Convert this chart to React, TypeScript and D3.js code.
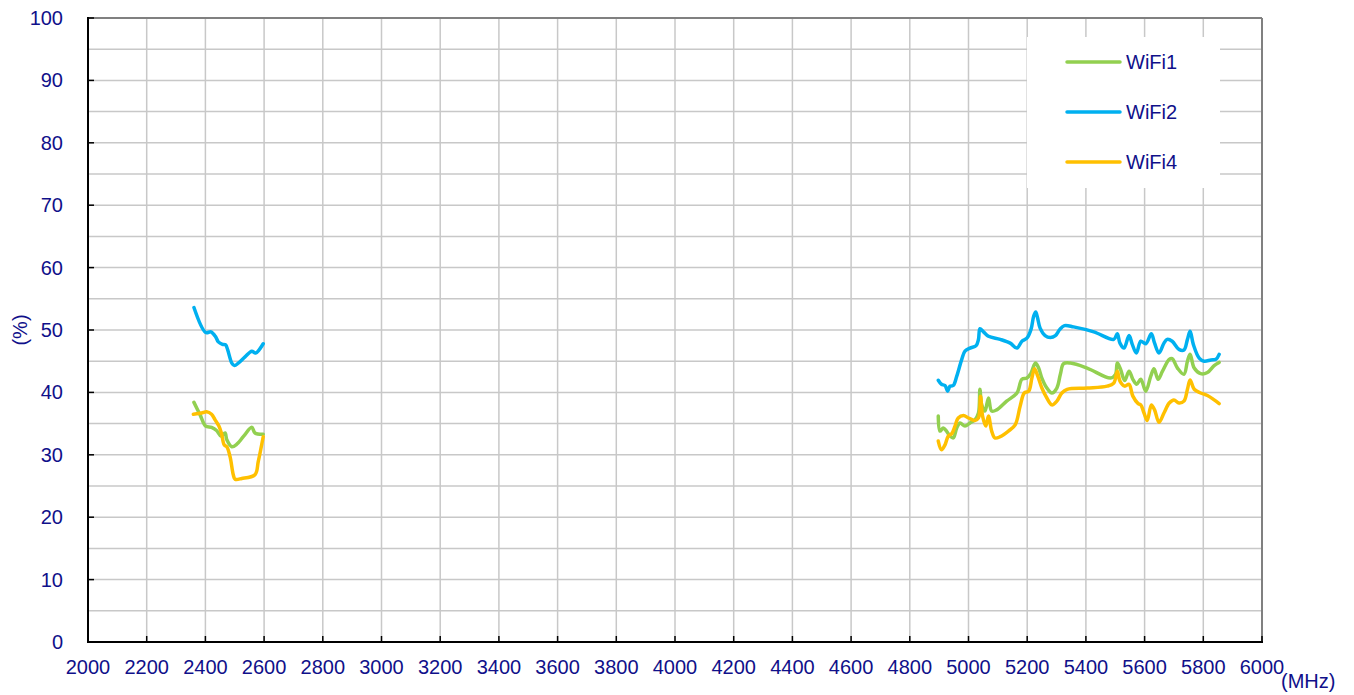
import React from "react";
import * as d3 from "d3";

const xTicks = [2000, 2200, 2400, 2600, 2800, 3000, 3200, 3400, 3600, 3800, 4000, 4200, 4400, 4600, 4800, 5000, 5200, 5400, 5600, 5800, 6000];
const yTicks = [0, 10, 20, 30, 40, 50, 60, 70, 80, 90, 100];
const yGrid = d3.range(0, 101, 5);

const wifi1Low: [number, number][] = [
  [2361, 38.4], [2382, 36.4], [2401, 34.6], [2421, 34.4], [2438, 33.9], [2453, 33.0], [2467, 33.5], [2473, 32.4],
  [2490, 31.3], [2507, 31.7], [2529, 32.9], [2558, 34.4], [2569, 33.5], [2597, 33.3],
];
const wifi2Low: [number, number][] = [
  [2361, 53.6], [2401, 49.6], [2419, 49.7], [2435, 48.9], [2444, 48.1], [2458, 47.7], [2469, 47.6], [2476, 46.8],
  [2490, 44.7], [2499, 44.3], [2512, 44.7], [2535, 45.7], [2558, 46.6], [2571, 46.3], [2597, 47.8],
];
const wifi4Low: [number, number][] = [
  [2359, 36.5], [2387, 36.7], [2404, 36.9], [2421, 36.5], [2433, 35.6], [2446, 34.6], [2455, 33.4], [2464, 31.6],
  [2473, 31.3], [2484, 29.7], [2495, 26.8], [2501, 26.1], [2524, 26.2], [2569, 26.8], [2580, 28.9], [2597, 32.9],
];

const wifi1High: [number, number][] = [
  [4897, 36.2], [4903, 33.8], [4914, 34.3], [4925, 33.8], [4937, 33.0], [4948, 32.7], [4960, 34.3], [4971, 35.1],
  [4988, 34.6], [5005, 35.1], [5022, 35.6], [5034, 36.7], [5039, 40.5], [5045, 38.0], [5056, 37.0], [5068, 39.1],
  [5079, 37.0], [5096, 37.2], [5130, 38.6], [5165, 39.9], [5182, 42.1], [5199, 42.3], [5213, 43.1], [5228, 44.7],
  [5239, 43.9], [5250, 42.3], [5267, 40.7], [5284, 39.9], [5301, 40.7], [5313, 42.9], [5324, 44.6], [5347, 44.7],
  [5404, 43.9], [5484, 42.3], [5501, 42.9], [5507, 44.7], [5518, 43.7], [5532, 41.9], [5547, 43.4], [5560, 42.1],
  [5573, 41.3], [5587, 42.1], [5604, 40.2], [5621, 42.6], [5632, 43.8], [5646, 42.1], [5661, 43.4], [5684, 45.3],
  [5694, 45.4], [5712, 43.9], [5734, 42.9], [5746, 45.0], [5755, 46.1], [5769, 43.9], [5791, 43.0], [5814, 43.2],
  [5837, 44.3], [5854, 44.8],
];
const wifi2High: [number, number][] = [
  [4897, 41.95], [4908, 41.3], [4920, 41.1], [4929, 40.2], [4937, 41.0], [4948, 41.1], [4960, 42.6], [4977, 45.3],
  [4988, 46.6], [5005, 47.1], [5026, 47.5], [5034, 48.5], [5039, 50.2], [5051, 49.7], [5068, 49.0], [5108, 48.5],
  [5142, 47.9], [5165, 47.1], [5182, 48.2], [5199, 48.7], [5213, 50.1], [5222, 52.2], [5229, 52.9], [5235, 52.0],
  [5244, 50.3], [5261, 49.1], [5279, 48.8], [5296, 49.1], [5311, 50.1], [5327, 50.7], [5358, 50.5], [5427, 49.7],
  [5495, 48.5], [5507, 49.4], [5516, 47.9], [5530, 47.1], [5547, 49.1], [5558, 47.7], [5572, 46.3], [5587, 48.2],
  [5604, 47.8], [5623, 49.4], [5634, 47.9], [5649, 46.3], [5666, 47.9], [5677, 48.5], [5694, 48.2], [5717, 46.9],
  [5734, 46.8], [5746, 48.5], [5755, 49.8], [5766, 47.7], [5786, 45.5], [5803, 45.0], [5826, 45.2], [5843, 45.3],
  [5854, 46.1],
];
const wifi4High: [number, number][] = [
  [4897, 32.2], [4908, 30.8], [4920, 31.6], [4931, 33.0], [4943, 33.4], [4954, 34.6], [4965, 35.9], [4983, 36.3],
  [5000, 35.9], [5022, 35.5], [5034, 35.9], [5041, 39.4], [5048, 36.2], [5059, 34.6], [5068, 36.2], [5079, 33.8],
  [5090, 32.7], [5108, 32.9], [5136, 33.8], [5159, 34.8], [5176, 37.8], [5190, 39.9], [5205, 40.2], [5216, 42.3],
  [5225, 43.8], [5236, 42.6], [5250, 40.7], [5267, 39.1], [5284, 38.0], [5301, 38.6], [5318, 39.9], [5336, 40.5],
  [5404, 40.7], [5472, 41.0], [5495, 41.5], [5507, 43.4], [5516, 41.8], [5532, 41.0], [5547, 41.3], [5560, 39.4],
  [5578, 38.2], [5587, 38.0], [5598, 36.7], [5609, 35.5], [5623, 38.0], [5634, 37.2], [5649, 35.2], [5666, 36.7],
  [5684, 38.3], [5700, 38.8], [5717, 38.3], [5734, 38.6], [5746, 40.5], [5755, 42.0], [5769, 40.5], [5791, 39.9],
  [5814, 39.5], [5837, 38.8], [5854, 38.2],
];

const seriesNames = ["WiFi1", "WiFi2", "WiFi4"];
const seriesColors = ["#92D050", "#00B0F0", "#FFC000"];
const seriesData = [
  [wifi1Low, wifi1High],
  [wifi2Low, wifi2High],
  [wifi4Low, wifi4High],
];

const W = 1354, H = 695;
const left = 88, right = 1262, top = 18, bottom = 642;
const textColor = "#10108a";

export default function App() {
  const x = d3.scaleLinear().domain([2000, 6000]).range([left, right]);
  const y = d3.scaleLinear().domain([0, 100]).range([bottom, top]);
  const line = d3
    .line<[number, number]>()
    .x((d) => x(d[0]))
    .y((d) => y(d[1]))
    .curve(d3.curveCatmullRom.alpha(0.5));

  const font = "'Liberation Sans', Arial, sans-serif";

  return (
    <svg width={W} height={H} style={{ position: "absolute", left: 0, top: 0, background: "#fff" }} fontFamily={font}>
      <rect x={0} y={0} width={W} height={H} fill="#fff" />
      {/* grid */}
      {yGrid.map((v) => (
        <line key={"gy" + v} x1={left} x2={right} y1={y(v)} y2={y(v)} stroke="#c8c8c8" strokeWidth={1.5} />
      ))}
      {xTicks.map((v) => (
        <line key={"gx" + v} x1={x(v)} x2={x(v)} y1={top} y2={bottom} stroke="#c8c8c8" strokeWidth={1.5} />
      ))}
      {/* border */}
      <line x1={left} x2={right} y1={top} y2={top} stroke="#808080" strokeWidth={2} />
      <line x1={right} x2={right} y1={top} y2={bottom} stroke="#808080" strokeWidth={2} />
      <line x1={left} x2={left} y1={top - 1} y2={bottom + 1} stroke="#000" strokeWidth={2} />
      <line x1={left - 1} x2={right + 1} y1={bottom} y2={bottom} stroke="#000" strokeWidth={2} />
      {/* ticks */}
      {yTicks.map((v) => (
        <line key={"ty" + v} x1={left} x2={left + 6} y1={y(v)} y2={y(v)} stroke="#000" strokeWidth={1.5} />
      ))}
      {xTicks.map((v) => (
        <line key={"tx" + v} x1={x(v)} x2={x(v)} y1={bottom} y2={bottom - 6} stroke="#000" strokeWidth={1.5} />
      ))}
      {/* tick labels */}
      {yTicks.map((v) => (
        <text key={"ly" + v} x={63} y={y(v)} dy="0.35em" textAnchor="end" fontSize={20} fill={textColor}>
          {v}
        </text>
      ))}
      {xTicks.map((v) => (
        <text key={"lx" + v} x={x(v)} y={674} textAnchor="middle" fontSize={20} fill={textColor}>
          {v}
        </text>
      ))}
      <text x={1281} y={688} fontSize={20} fill={textColor}>(MHz)</text>
      <text transform={`translate(27,330) rotate(-90)`} textAnchor="middle" fontSize={20} fill={textColor}>(%)</text>
      {/* series */}
      {seriesData.map((segs, i) =>
        segs.map((seg, j) => (
          <path key={`s${i}-${j}`} d={line(seg) || ""} fill="none" stroke={seriesColors[i]} strokeWidth={3.5} strokeLinejoin="round" strokeLinecap="round" />
        ))
      )}
      {/* legend */}
      <rect x={1027} y={37} width={193} height={151} fill="#fff" />
      {seriesNames.map((n, i) => (
        <g key={n}>
          <line x1={1067} x2={1120} y1={62 + i * 50} y2={62 + i * 50} stroke={seriesColors[i]} strokeWidth={3.5} strokeLinecap="round" />
          <text x={1126} y={62 + i * 50} dy="0.35em" fontSize={20} fill={textColor}>{n}</text>
        </g>
      ))}
    </svg>
  );
}
